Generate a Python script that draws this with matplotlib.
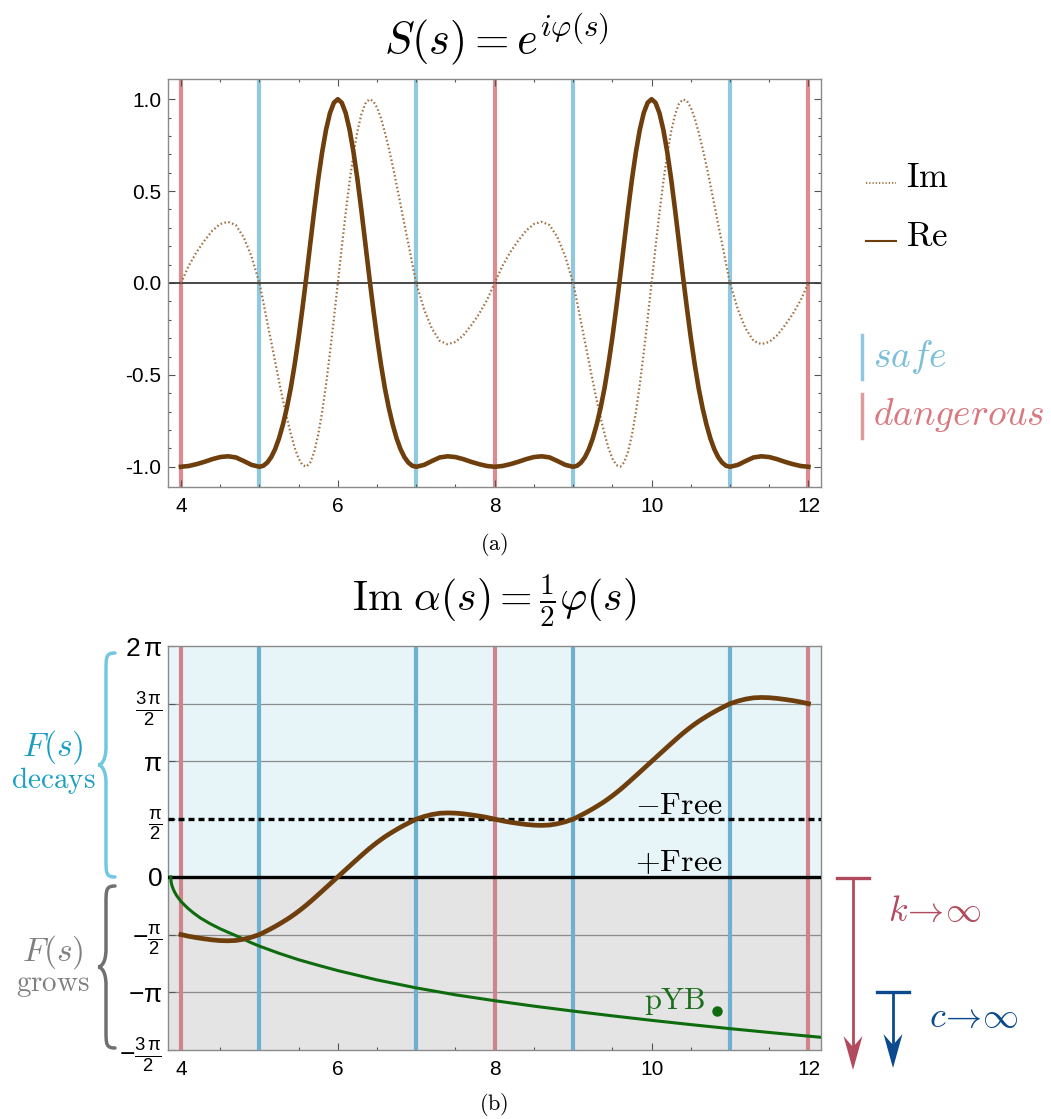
import numpy as np
import matplotlib
matplotlib.use('Agg')
import matplotlib.pyplot as plt
from matplotlib import font_manager
from matplotlib.path import Path
from matplotlib.patches import PathPatch, Polygon
from matplotlib.lines import Line2D

# 刻度字体：优先用窄体
names = {f.name for f in font_manager.fontManager.ttflist}
tick_font = 'Liberation Sans Narrow' if 'Liberation Sans Narrow' in names else 'Liberation Sans'

matplotlib.rcParams['font.family'] = [tick_font, 'DejaVu Sans']
matplotlib.rcParams['mathtext.fontset'] = 'cm'
matplotlib.rcParams['mathtext.rm'] = tick_font
matplotlib.rcParams['mathtext.it'] = tick_font
matplotlib.rcParams['mathtext.bf'] = tick_font
matplotlib.rcParams['axes.unicode_minus'] = False

# ---------------- 数据 ----------------
# 采样点：陡峭段 (5-7, 9-11) 取 0.05 间隔，其余 0.1
s_grid = np.concatenate([np.linspace(4.0, 4.9, 10), np.linspace(5.0, 6.95, 40),
                         np.linspace(7.0, 8.9, 20), np.linspace(9.0, 10.95, 40),
                         np.linspace(11.0, 12.0, 11)])

# Im alpha(s) = phi(s)/2，单位 pi
half_phase = [
    -0.500, -0.515, -0.527, -0.537, -0.546, -0.552, -0.554, -0.551, -0.540, -0.523,
    -0.500, -0.4835, -0.466, -0.4485, -0.430, -0.4105, -0.390, -0.369, -0.347, -0.323,
    -0.298, -0.2715, -0.244, -0.215, -0.185, -0.1545, -0.124, -0.093, -0.062, -0.031,
    0.000, 0.031, 0.062, 0.093, 0.124, 0.1545, 0.185, 0.215, 0.244, 0.2715,
    0.298, 0.323, 0.347, 0.369, 0.390, 0.4105, 0.430, 0.4485, 0.466, 0.4835,
    0.500, 0.523, 0.540, 0.551, 0.554, 0.552, 0.546, 0.537, 0.527, 0.515,
    0.500, 0.485, 0.473, 0.463, 0.454, 0.448, 0.446, 0.449, 0.460, 0.477,
    0.500, 0.5165, 0.534, 0.5515, 0.570, 0.5895, 0.610, 0.631, 0.653, 0.677,
    0.702, 0.7285, 0.756, 0.785, 0.815, 0.8455, 0.876, 0.907, 0.938, 0.969,
    1.000, 1.031, 1.062, 1.093, 1.124, 1.1545, 1.185, 1.215, 1.244, 1.2715,
    1.298, 1.323, 1.347, 1.369, 1.390, 1.4105, 1.430, 1.4485, 1.466, 1.4835,
    1.500, 1.523, 1.540, 1.551, 1.554, 1.552, 1.546, 1.537, 1.527, 1.515,
    1.500,
]

# S(s) 的实部和虚部
re_vals = [
    -1.000, -0.9956, -0.9856, -0.9731, -0.9585, -0.9471, -0.9430, -0.9491, -0.9686, -0.9896,
    -1.000, -0.9946, -0.9773, -0.9481, -0.9048, -0.8460, -0.7705, -0.6799, -0.5724, -0.4427,
    -0.2971, -0.1347, 0.0377, 0.2181, 0.3971, 0.5647, 0.7115, 0.8341, 0.9251, 0.9811,
    1.000, 0.9811, 0.9251, 0.8341, 0.7115, 0.5647, 0.3971, 0.2181, 0.0377, -0.1347,
    -0.2971, -0.4427, -0.5724, -0.6799, -0.7705, -0.8460, -0.9048, -0.9481, -0.9773, -0.9946,
    -1.000, -0.9896, -0.9686, -0.9491, -0.9430, -0.9471, -0.9585, -0.9731, -0.9856, -0.9956,
    -1.000, -0.9956, -0.9856, -0.9731, -0.9585, -0.9471, -0.9430, -0.9491, -0.9686, -0.9896,
    -1.000, -0.9946, -0.9773, -0.9481, -0.9048, -0.8460, -0.7705, -0.6799, -0.5724, -0.4427,
    -0.2971, -0.1347, 0.0377, 0.2181, 0.3971, 0.5647, 0.7115, 0.8341, 0.9251, 0.9811,
    1.000, 0.9811, 0.9251, 0.8341, 0.7115, 0.5647, 0.3971, 0.2181, 0.0377, -0.1347,
    -0.2971, -0.4427, -0.5724, -0.6799, -0.7705, -0.8460, -0.9048, -0.9481, -0.9773, -0.9946,
    -1.000, -0.9896, -0.9686, -0.9491, -0.9430, -0.9471, -0.9585, -0.9731, -0.9856, -0.9956,
    -1.000,
]
im_vals = [
    0.000, 0.0941, 0.1688, 0.2304, 0.2850, 0.3209, 0.3328, 0.3150, 0.2487, 0.1440,
    0.000, -0.1035, -0.2120, -0.3180, -0.4258, -0.5331, -0.6374, -0.7333, -0.8200, -0.8967,
    -0.9549, -0.9909, -0.9993, -0.9759, -0.9178, -0.8253, -0.7027, -0.5517, -0.3798, -0.1936,
    0.000, 0.1936, 0.3798, 0.5517, 0.7027, 0.8253, 0.9178, 0.9759, 0.9993, 0.9909,
    0.9549, 0.8967, 0.8200, 0.7333, 0.6374, 0.5331, 0.4258, 0.3180, 0.2120, 0.1035,
    0.000, -0.1440, -0.2487, -0.3150, -0.3328, -0.3209, -0.2850, -0.2304, -0.1688, -0.0941,
    0.000, 0.0941, 0.1688, 0.2304, 0.2850, 0.3209, 0.3328, 0.3150, 0.2487, 0.1440,
    0.000, -0.1035, -0.2120, -0.3180, -0.4258, -0.5331, -0.6374, -0.7333, -0.8200, -0.8967,
    -0.9549, -0.9909, -0.9993, -0.9759, -0.9178, -0.8253, -0.7027, -0.5517, -0.3798, -0.1936,
    0.000, 0.1936, 0.3798, 0.5517, 0.7027, 0.8253, 0.9178, 0.9759, 0.9993, 0.9909,
    0.9549, 0.8967, 0.8200, 0.7333, 0.6374, 0.5331, 0.4258, 0.3180, 0.2120, 0.1035,
    0.000, -0.1440, -0.2487, -0.3150, -0.3328, -0.3209, -0.2850, -0.2304, -0.1688, -0.0941,
    0.000,
]

# pYB 曲线（单位 pi）
pyb_s = [3.87, 3.875, 3.885, 3.9, 3.92, 3.95, 4.0, 4.08, 4.16, 4.25, 4.37, 4.5, 4.6, 4.76,
         4.88, 5.0, 5.25, 5.5, 5.75, 6.0, 6.5, 7.0, 7.5, 8.0, 8.5, 9.0, 9.5, 10.0, 10.5,
         11.0, 11.5, 12.0, 12.16]
pyb_v = [0.0, -0.045, -0.075, -0.103, -0.133, -0.167, -0.213, -0.267, -0.313, -0.357, -0.405,
         -0.450, -0.480, -0.527, -0.566, -0.600, -0.662, -0.718, -0.766, -0.812, -0.893,
         -0.962, -1.022, -1.073, -1.120, -1.163, -1.204, -1.243, -1.280, -1.315, -1.348,
         -1.380, -1.390]
pyb_dot_s = 10.83
pyb_dot_v = -1.164

safe_s = [5, 7, 9, 11]
danger_s = [4, 8, 12]

x_major = [4, 6, 8, 10, 12]
x_labels = ['4', '6', '8', '10', '12']
y1_major = [-1.0, -0.5, 0.0, 0.5, 1.0]
y1_labels = ['-1.0', '-0.5', '0.0', '0.5', '1.0']
y2_major = [-1.5, -1.0, -0.5, 0.0, 0.5, 1.0, 1.5, 2.0]
y2_labels = [r'$-\frac{3\,\pi}{2}$', r'$-\pi$', r'$-\frac{\pi}{2}$', r'$0$',
             r'$\frac{\pi}{2}$', r'$\pi$', r'$\frac{3\,\pi}{2}$', r'$2\,\pi$']
grid_levels = [-1.0, -0.5, 1.0, 1.5]

# ---------------- 画图 ----------------
W, H = 1051, 1119


def fx(x):
    return x / W


def fy(y):
    return 1 - y / H


brown = '#6e3e0c'
green = '#0e6b0e'

fig = plt.figure(figsize=(10.51, 11.19), dpi=100)

# 上图 (a)
ax1 = fig.add_axes([fx(168), fy(487), (821 - 168) / W, (487 - 79) / H])
for s in safe_s:
    ax1.axvline(s, color='#91c8e1', lw=3, zorder=1)
for s in danger_s:
    ax1.axvline(s, color='#dc8c91', lw=3, zorder=1)
ax1.axhline(0, color='#3a3a3a', lw=1.3, zorder=2)
ax1.plot(s_grid, im_vals, color='#a0703f', lw=1.6, ls=(0, (0.7, 1.1)), zorder=3)
ax1.plot(s_grid, re_vals, color=brown, lw=3.3, zorder=4)
ax1.set_xlim(3.835, 12.16)
ax1.set_ylim(-1.11, 1.11)
ax1.set_xticks(x_major)
ax1.set_xticklabels(x_labels)
ax1.set_xticks(np.arange(4, 12.01, 0.5), minor=True)
ax1.set_yticks(y1_major)
ax1.set_yticklabels(y1_labels)
ax1.set_yticks(np.arange(-1.0, 1.01, 0.1), minor=True)
ax1.tick_params(which='both', direction='in', top=True, right=True, color='#555555',
                labelsize=15, width=0.8)
ax1.tick_params(which='major', length=5)
ax1.tick_params(which='minor', length=2.5)
ax1.tick_params(axis='x', pad=7)
ax1.tick_params(axis='y', pad=5)
for sp in ax1.spines.values():
    sp.set_color('#8a8a8a')
    sp.set_linewidth(1)

fig.text(fx(496), fy(40), r'$S(s)=e^{i\varphi(s)}$', fontsize=32, ha='center', va='center')
fig.text(fx(494), fy(545), r'$\mathrm{(a)}$', fontsize=16, ha='center', va='center')

# 图例
fig.add_artist(Line2D([fx(866), fx(896)], [fy(183), fy(183)], color='#a0703f', lw=1.3,
                      ls=(0, (0.7, 1.1))))
fig.text(fx(906), fy(187), r'$\mathrm{Im}$', fontsize=25, ha='left', va='baseline')
fig.add_artist(Line2D([fx(866), fx(896)], [fy(241), fy(241)], color=brown, lw=1.5))
fig.text(fx(906), fy(246), r'$\mathrm{Re}$', fontsize=25, ha='left', va='baseline')

fig.add_artist(Line2D([fx(862), fx(862)], [fy(335), fy(379)], color='#91c8e1', lw=2.5))
fig.text(fx(873), fy(367), r'$safe$', fontsize=27, color='#7bbfd9', ha='left', va='baseline')
fig.add_artist(Line2D([fx(862), fx(862)], [fy(394), fy(438)], color='#e0999c', lw=2.5))
fig.text(fx(873), fy(425), r'$dangerous$', fontsize=27, color='#d9787f', ha='left',
         va='baseline')

# 下图 (b)
ax2 = fig.add_axes([fx(168), fy(1050), (821 - 168) / W, (1050 - 646) / H])
ax2.axhspan(0, 2, color='#e7f5f9', lw=0, zorder=0)
ax2.axhspan(-1.5, 0, color='#e4e4e4', lw=0, zorder=0)
for g in grid_levels:
    ax2.axhline(g, color='#8c8c8c', lw=0.9, zorder=1)
for s in safe_s:
    ax2.axvline(s, color='#6eb0cf', lw=3, zorder=2)
for s in danger_s:
    ax2.axvline(s, color='#cf848b', lw=3, zorder=2)
ax2.axhline(0.5, color='black', lw=2.4, ls=(0, (1.8, 1.2)), zorder=3)
ax2.axhline(0, color='black', lw=2.4, zorder=3)
ax2.plot(pyb_s, pyb_v, color=green, lw=2.2, zorder=4)
ax2.plot(s_grid, half_phase, color=brown, lw=3.4, zorder=5)
ax2.plot([pyb_dot_s], [pyb_dot_v], 'o', color=green, ms=6.5, zorder=6)
ax2.text(10.69, -1.147, r'$\mathrm{pYB}$', color='#1a6e1a', fontsize=22, ha='right',
         va='baseline', zorder=6)
ax2.text(10.90, 0.543, r'$-\mathrm{Free}$', fontsize=23, ha='right', va='baseline', zorder=6)
ax2.text(10.90, 0.054, r'$+\mathrm{Free}$', fontsize=23, ha='right', va='baseline', zorder=6)
ax2.set_xlim(3.835, 12.16)
ax2.set_ylim(-1.5, 2.0)
ax2.set_xticks(x_major)
ax2.set_xticklabels(x_labels)
ax2.set_xticks(np.arange(4, 12.01, 0.5), minor=True)
ax2.set_yticks(y2_major)
ax2.set_yticklabels(y2_labels, math_fontfamily='custom')
ax2.tick_params(which='both', direction='in', color='#555555', labelsize=15, width=0.8)
ax2.tick_params(which='major', length=5)
ax2.tick_params(which='minor', length=2.5)
ax2.tick_params(axis='x', pad=7)
ax2.tick_params(axis='y', pad=4, labelsize=19)
for sp in ax2.spines.values():
    sp.set_color('#8a8a8a')
    sp.set_linewidth(1)

fig.text(fx(494), fy(601), r'$\mathrm{Im}\ \alpha(s)=\frac{1}{2}\varphi(s)$', fontsize=30,
         ha='center', va='center')
fig.text(fx(494), fy(1105), r'$\mathrm{(b)}$', fontsize=16, ha='center', va='center')


# 左侧大括号
def brace(top, bot, mid, color):
    xe, xa, xt = 115, 106, 98
    r = 18
    pts = [(xe, top), (xa, top), (xa, top + 4), (xa, top + r),
           (xa, mid - r),
           (xa, mid - 4), (xt + 3, mid), (xt, mid),
           (xt + 3, mid), (xa, mid + 4), (xa, mid + r),
           (xa, bot - r),
           (xa, bot - 4), (xa, bot), (xe, bot)]
    codes = [Path.MOVETO, Path.CURVE4, Path.CURVE4, Path.CURVE4, Path.LINETO,
             Path.CURVE4, Path.CURVE4, Path.CURVE4, Path.CURVE4, Path.CURVE4, Path.CURVE4,
             Path.LINETO, Path.CURVE4, Path.CURVE4, Path.CURVE4]
    verts = [(fx(x), fy(y)) for x, y in pts]
    fig.add_artist(PathPatch(Path(verts, codes), transform=fig.transFigure, fill=False,
                             ec=color, lw=2.5, capstyle='round'))


brace(653, 877, 765, '#73c8e1')
brace(886, 1048, 967, '#707070')
fig.text(fx(53), fy(747), r'$F(s)$', fontsize=24, color='#1a9fc4', ha='center', va='center')
fig.text(fx(53), fy(781), r'$\mathrm{decays}$', fontsize=21, color='#1a9fc4', ha='center',
         va='center')
fig.text(fx(53), fy(952), r'$F(s)$', fontsize=24, color='#808080', ha='center', va='center')
fig.text(fx(53), fy(985), r'$\mathrm{grows}$', fontsize=21, color='#808080', ha='center',
         va='center')


# 右侧箭头
def t_arrow(x, y0, y1, color):
    fig.add_artist(Line2D([fx(x - 16), fx(x + 16)], [fy(y0), fy(y0)], color=color, lw=2.4))
    fig.add_artist(Line2D([fx(x), fx(x)], [fy(y0), fy(y1 - 24)], color=color, lw=2.0))
    head = [(fx(x), fy(y1)), (fx(x - 9.5), fy(y1 - 34)), (fx(x), fy(y1 - 23)),
            (fx(x + 9.5), fy(y1 - 34))]
    fig.add_artist(Polygon(head, closed=True, transform=fig.transFigure, color=color, lw=0))


t_arrow(853, 878, 1070, '#b24a5e')
t_arrow(893, 992, 1068, '#0b4a8e')
fig.text(fx(935), fy(912), r'$k\!\rightarrow\!\infty$', fontsize=26, color='#b24a5e',
         ha='center', va='center')
fig.text(fx(974), fy(1018), r'$c\!\rightarrow\!\infty$', fontsize=26, color='#0b4a8e',
         ha='center', va='center')

fig.savefig('out.png', dpi=100)
